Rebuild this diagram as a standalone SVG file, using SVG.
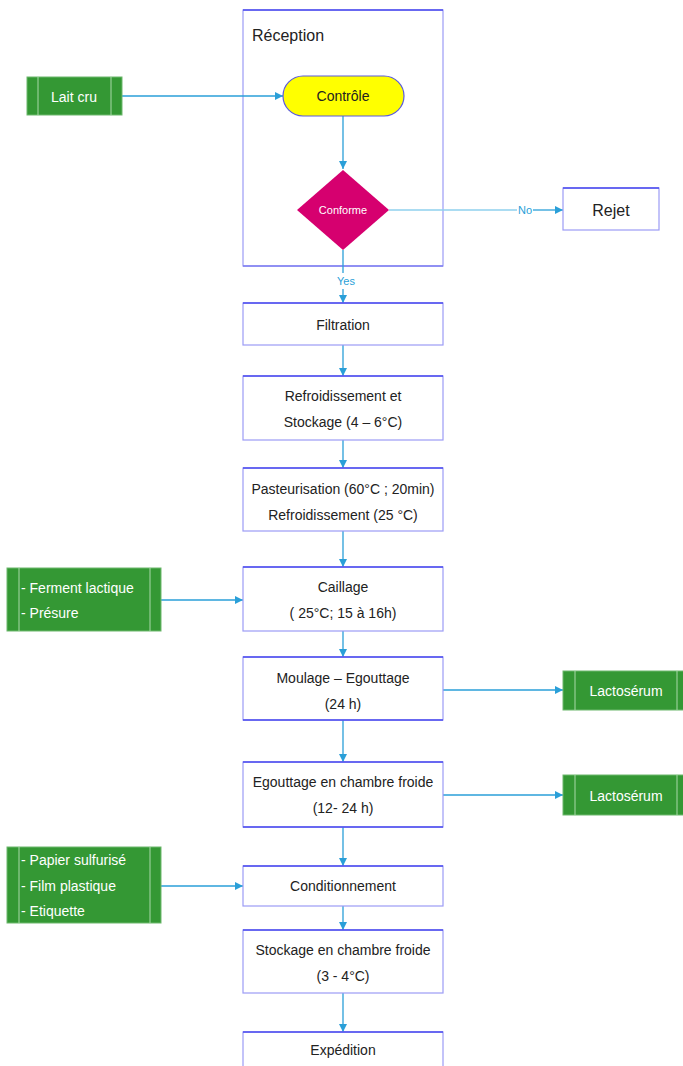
<svg xmlns="http://www.w3.org/2000/svg" width="683" height="1066" viewBox="0 0 683 1066">
<defs>
<marker id="arr" markerWidth="10" markerHeight="10" refX="9" refY="5" orient="auto" markerUnits="userSpaceOnUse">
<path d="M1,1 L9,5 L1,9 Z" fill="#2a9fd8"/>
</marker>
<style>
text{font-family:"Liberation Sans",Arial,sans-serif;fill:#222;}
.t{font-size:14px;text-anchor:middle;dominant-baseline:central;}
.g{font-size:14px;fill:#fff;dominant-baseline:central;}
.box{fill:#fff;stroke:#9c9cf5;stroke-width:1.2;}
.top{stroke:#4a4aee;stroke-width:1.5;}
.grn{fill:#349834;stroke:#6cb86c;stroke-width:1;}
.gl{stroke:#a8d8a8;stroke-width:1;}
.c{stroke:#2a9fd8;stroke-width:1.3;fill:none;marker-end:url(#arr);}
.lbl{font-size:11px;fill:#2a9fd8;text-anchor:middle;dominant-baseline:central;}
</style>
</defs>
<rect width="683" height="1066" fill="#fff"/>

<g id="reception">
<rect x="243" y="10" width="200" height="256" fill="none" stroke="#9c9cf5" stroke-width="1.2"/>
<line class="top" x1="243" y1="10" x2="443" y2="10"/>
<line x1="243" y1="266" x2="443" y2="266" stroke="#7f7ff0" stroke-width="1.5"/>
<text x="252" y="35" style="font-size:16px;dominant-baseline:central">Réception</text>
</g>

<g id="connectors">
<line class="c" x1="122" y1="96" x2="283" y2="96"/>
<line class="c" x1="343" y1="116" x2="343" y2="169"/>
<line x1="389" y1="210" x2="517" y2="210" stroke="#8fd0ee" stroke-width="1.3"/>
<line class="c" x1="533" y1="210" x2="563" y2="210"/>
<text class="lbl" x="525" y="210">No</text>
<line x1="343" y1="250" x2="343" y2="273" stroke="#2a9fd8" stroke-width="1.3"/>
<text class="lbl" x="346" y="281">Yes</text>
<line class="c" x1="343" y1="289" x2="343" y2="303"/>
<line class="c" x1="343" y1="345" x2="343" y2="376"/>
<line class="c" x1="343" y1="440" x2="343" y2="468"/>
<line class="c" x1="343" y1="531" x2="343" y2="567"/>
<line class="c" x1="161" y1="600" x2="243" y2="600"/>
<line class="c" x1="343" y1="631" x2="343" y2="657"/>
<line class="c" x1="443" y1="690" x2="563" y2="690"/>
<line class="c" x1="343" y1="720" x2="343" y2="762"/>
<line class="c" x1="443" y1="795" x2="563" y2="795"/>
<line class="c" x1="343" y1="827" x2="343" y2="866"/>
<line class="c" x1="161" y1="886" x2="243" y2="886"/>
<line class="c" x1="343" y1="906" x2="343" y2="930"/>
<line class="c" x1="343" y1="993" x2="343" y2="1032"/>
</g>

<g id="lait-cru">
<rect class="grn" x="27" y="77" width="95" height="38"/>
<line class="gl" x1="38" y1="77" x2="38" y2="115"/>
<line class="gl" x1="111" y1="77" x2="111" y2="115"/>
<text class="g" x="74" y="97" text-anchor="middle">Lait cru</text>
</g>

<g id="controle">
<rect x="283" y="76" width="121" height="40" rx="20" ry="20" fill="#ffff00" stroke="#5a5ae0" stroke-width="1.2"/>
<text class="t" x="343" y="96">Contrôle</text>
</g>

<g id="conforme">
<polygon points="343,170 389,210 343,250 297,210" fill="#d6006f"/>
<text class="t" x="343" y="210" style="font-size:11px;fill:#fff">Conforme</text>
</g>

<g id="rejet">
<rect class="box" x="563" y="188" width="96" height="42"/>
<line class="top" x1="563" y1="188" x2="659" y2="188"/>
<text class="t" x="611" y="210" style="font-size:16px">Rejet</text>
</g>

<g id="filtration">
<rect class="box" x="243" y="303" width="200" height="42"/>
<line class="top" x1="243" y1="303" x2="443" y2="303"/>
<text class="t" x="343" y="325">Filtration</text>
</g>

<g id="refroidissement">
<rect class="box" x="243" y="376" width="200" height="64"/>
<line class="top" x1="243" y1="376" x2="443" y2="376"/>
<text class="t" x="343" y="396">Refroidissement et</text>
<text class="t" x="343" y="422">Stockage (4 – 6°C)</text>
</g>

<g id="pasteurisation">
<rect class="box" x="243" y="468" width="200" height="63"/>
<line class="top" x1="243" y1="468" x2="443" y2="468"/>
<text class="t" x="343" y="489">Pasteurisation (60°C ; 20min)</text>
<text class="t" x="343" y="515">Refroidissement (25 °C)</text>
</g>

<g id="ferment">
<rect class="grn" x="7" y="568" width="154" height="63"/>
<line class="gl" x1="19" y1="568" x2="19" y2="631"/>
<line class="gl" x1="150" y1="568" x2="150" y2="631"/>
<text class="g" x="21" y="588">- Ferment lactique</text>
<text class="g" x="21" y="613">- Présure</text>
</g>

<g id="caillage">
<rect class="box" x="243" y="567" width="200" height="64"/>
<line class="top" x1="243" y1="567" x2="443" y2="567"/>
<text class="t" x="343" y="587">Caillage</text>
<text class="t" x="343" y="613">( 25°C; 15 à 16h)</text>
</g>

<g id="moulage">
<rect class="box" x="243" y="657" width="200" height="63"/>
<line class="top" x1="243" y1="657" x2="443" y2="657"/>
<line class="top" x1="243" y1="720" x2="443" y2="720"/>
<text class="t" x="343" y="678">Moulage – Egouttage</text>
<text class="t" x="343" y="704">(24 h)</text>
</g>

<g id="lactoserum-1">
<rect class="grn" x="563" y="671" width="125" height="39"/>
<line class="gl" x1="575" y1="671" x2="575" y2="710"/>
<line class="gl" x1="677" y1="671" x2="677" y2="710"/>
<text class="g" x="626" y="691" text-anchor="middle">Lactosérum</text>
</g>

<g id="egouttage">
<rect class="box" x="243" y="762" width="200" height="65"/>
<line class="top" x1="243" y1="762" x2="443" y2="762"/>
<line class="top" x1="243" y1="827" x2="443" y2="827"/>
<text class="t" x="343" y="782">Egouttage en chambre froide</text>
<text class="t" x="343" y="808">(12- 24 h)</text>
</g>

<g id="lactoserum-2">
<rect class="grn" x="563" y="775" width="125" height="40"/>
<line class="gl" x1="575" y1="775" x2="575" y2="815"/>
<line class="gl" x1="677" y1="775" x2="677" y2="815"/>
<text class="g" x="626" y="796" text-anchor="middle">Lactosérum</text>
</g>

<g id="emballage">
<rect class="grn" x="7" y="847" width="154" height="76"/>
<line class="gl" x1="19" y1="847" x2="19" y2="923"/>
<line class="gl" x1="150" y1="847" x2="150" y2="923"/>
<text class="g" x="21" y="860">- Papier sulfurisé</text>
<text class="g" x="21" y="886">- Film plastique</text>
<text class="g" x="21" y="911">- Etiquette</text>
</g>

<g id="conditionnement">
<rect class="box" x="243" y="866" width="200" height="40"/>
<line class="top" x1="243" y1="866" x2="443" y2="866"/>
<text class="t" x="343" y="886">Conditionnement</text>
</g>

<g id="stockage">
<rect class="box" x="243" y="930" width="200" height="63"/>
<line class="top" x1="243" y1="930" x2="443" y2="930"/>
<text class="t" x="343" y="950">Stockage en chambre froide</text>
<text class="t" x="343" y="976">(3 - 4°C)</text>
</g>

<g id="expedition">
<rect class="box" x="243" y="1032" width="200" height="40"/>
<line class="top" x1="243" y1="1032" x2="443" y2="1032"/>
<text class="t" x="343" y="1050">Expédition</text>
</g>
</svg>
